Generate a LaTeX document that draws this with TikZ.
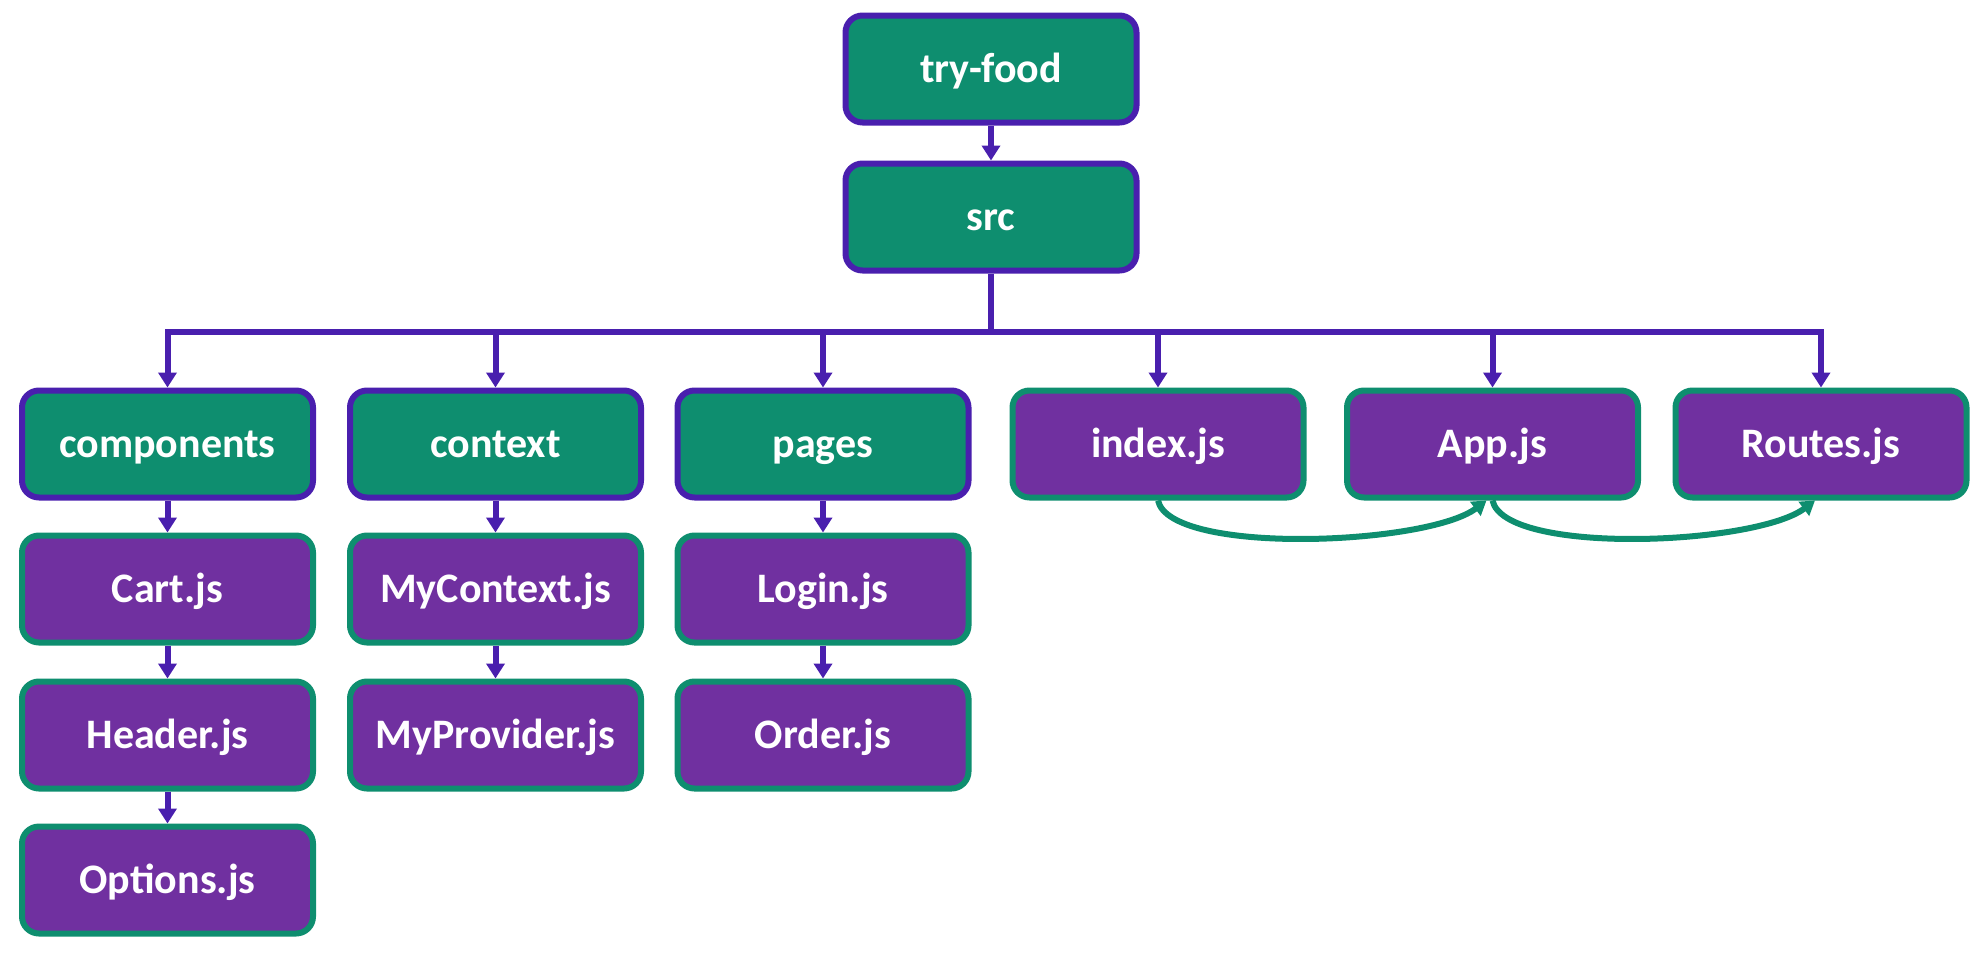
\documentclass[tikz,border=0pt]{standalone}
\usepackage{fontspec}
\setmainfont{Carlito}
\usetikzlibrary{arrows.meta}
\definecolor{fgreen}{RGB}{14,142,111}
\definecolor{fpurple}{RGB}{112,48,160}
\definecolor{fborder}{RGB}{73,31,174}
\begin{document}
\begin{tikzpicture}[x=1pt,y=-1pt,
  box/.style={rectangle, rounded corners=17pt, minimum width=291pt, minimum height=107pt,
    inner sep=0pt, line width=6pt, text=white, text height=30pt, text depth=4pt,
    font=\fontsize{42}{50}\selectfont\bfseries},
  folder/.style={box, fill=fgreen, draw=fborder},
  file/.style={box, fill=fpurple, draw=fgreen},
  conn/.style={draw=fborder, line width=6pt},
  arr/.style={conn, -{Triangle[width=18pt,length=15pt]}},
  garr/.style={draw=fgreen, line width=6pt, -{Triangle[width=17pt,length=14pt]}}]
\useasboundingbox (0,0) rectangle (1984,954);

\node[folder] (tryfood) at (991,69) {try-food};
\node[folder] (src) at (991,217) {src};

\node[folder] (components) at (167.5,444) {components};
\node[folder] (context) at (495.5,444) {context};
\node[folder] (pages) at (823,444) {pages};
\node[file] (index) at (1158,444) {index.js};
\node[file] (app) at (1492.5,444) {App.js};
\node[file] (routes) at (1821,444) {Routes.js};

\node[file] (cart) at (167.5,589) {Cart.js};
\node[file] (header) at (167.5,735) {Header.js};
\node[file] (options) at (167.5,880) {Options.js};

\node[file] (mycontext) at (495.5,589) {MyContext.js};
\node[file] (myprovider) at (495.5,735) {MyProvider.js};

\node[file] (login) at (823,589) {Login.js};
\node[file] (order) at (823,735) {Order.js};

\coordinate (bus) at (991,332);

\draw[arr] (tryfood.south) -- (src.north);
\draw[conn] (src.south) -- (bus);
\foreach \n in {components,context,pages,index,app,routes}
  \draw[arr] (bus) -| (\n.north);

\draw[arr] (components.south) -- (cart.north);
\draw[arr] (cart.south) -- (header.north);
\draw[arr] (header.south) -- (options.north);
\draw[arr] (context.south) -- (mycontext.north);
\draw[arr] (mycontext.south) -- (myprovider.north);
\draw[arr] (pages.south) -- (login.north);
\draw[arr] (login.south) -- (order.north);

\draw[garr] (index.south) .. controls +(12,55) and +(-60,45) .. ([xshift=-6pt]app.south);
\draw[garr] (app.south) .. controls +(12,55) and +(-60,45) .. ([xshift=-6pt]routes.south);
\end{tikzpicture}
\end{document}
